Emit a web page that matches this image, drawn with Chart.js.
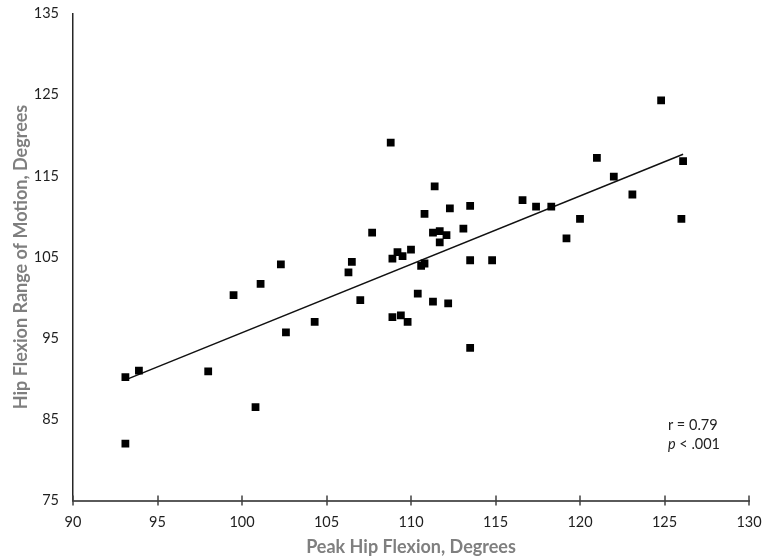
<!DOCTYPE html>
<html><head><meta charset="utf-8">
<script src="https://cdn.jsdelivr.net/npm/chart.js@4"></script>
<style>html,body{margin:0;padding:0;background:#fff}#wrap{width:763px;height:560px}</style>
</head><body><div id="wrap"><canvas id="c" width="763" height="560"></canvas></div>
<script>
const peakHipFlexion = [124.8,121.0,126.1,122.0,123.1,126.0,116.6,117.4,118.3,120.0,
  119.2,108.8,111.4,110.8,112.3,113.5,113.1,107.7,111.3,111.7,
  112.1,111.7,110.0,109.2,108.9,109.5,106.5,106.3,102.3,101.1,
  99.5,107.0,110.8,110.6,113.5,114.8,110.4,111.3,112.2,108.9,
  109.4,109.8,102.6,104.3,93.1,93.9,98.0,100.8,93.1,113.5];
const hipFlexionROM = [124.3,117.2,116.8,114.9,112.7,109.7,112.0,111.2,111.2,109.7,
  107.3,119.1,113.7,110.3,111.0,111.3,108.5,108.0,108.0,108.2,
  107.7,106.8,105.9,105.6,104.8,105.1,104.4,103.1,104.1,101.7,
  100.3,99.7,104.2,103.9,104.6,104.6,100.5,99.5,99.3,97.6,
  97.8,97.0,95.7,97.0,90.2,91.0,90.9,86.5,82.0,93.8];
const xTickValues = [90,95,100,105,110,115,120,125,130];
const yTickValues = [75,85,95,105,115,125,135];
const xTitle = 'Peak Hip Flexion, Degrees';
const yTitle = 'Hip Flexion Range of Motion, Degrees';
const statR = 'r = 0.79';
const statP = ['p', ' < .001'];

// least squares trend line from the data
const n = peakHipFlexion.length;
const mx = peakHipFlexion.reduce((a,b)=>a+b,0)/n;
const my = hipFlexionROM.reduce((a,b)=>a+b,0)/n;
let sxy=0, sxx=0;
for(let i=0;i<n;i++){ sxy+=(peakHipFlexion[i]-mx)*(hipFlexionROM[i]-my); sxx+=(peakHipFlexion[i]-mx)**2; }
const slope = sxy/sxx, intercept = my - slope*mx;
const xMin = Math.min(...peakHipFlexion), xMax = Math.max(...peakHipFlexion);
const trend = [{x:xMin,y:intercept+slope*xMin},{x:xMax,y:intercept+slope*xMax}];

const FONT = 'Lato';
const decor = {
  id:'decor',
  afterDraw(chart){
    const ctx = chart.ctx, xs = chart.scales.x, ys = chart.scales.y;
    ctx.save();
    ctx.strokeStyle = '#404040'; ctx.lineWidth = 1.5;
    const yb = ys.getPixelForValue(75);
    xTickValues.forEach(v=>{
      const px = Math.round(xs.getPixelForValue(v));
      ctx.beginPath(); ctx.moveTo(px, yb-5); ctx.lineTo(px, yb+5); ctx.stroke();
    });
    ctx.fillStyle = '#222'; ctx.textBaseline = 'middle'; ctx.textAlign = 'left';
    const ax = xs.getPixelForValue(125.2);
    ctx.font = '14.5px ' + FONT;
    ctx.fillText(statR, ax, ys.getPixelForValue(84.2));
    const py = ys.getPixelForValue(81.9);
    ctx.font = 'italic 14.5px ' + FONT;
    ctx.fillText(statP[0], ax, py);
    const w = ctx.measureText(statP[0]).width;
    ctx.font = '14.5px ' + FONT;
    ctx.fillText(statP[1], ax + w, py);
    ctx.restore();
  }
};

const HIDDEN = 'rgba(0,0,0,0)';
new Chart(document.getElementById('c'), {
  data: {
    datasets: [
      { type:'scatter', data: peakHipFlexion.map((x,i)=>({x, y:hipFlexionROM[i]})),
        pointStyle:'rect', pointRadius:5.5, pointHoverRadius:5.5, backgroundColor:'#000', borderWidth:0, order:1 },
      { type:'line', data: trend, borderColor:'#111', borderWidth:1.5, pointRadius:0, fill:false, order:2 }
    ]
  },
  options: {
    responsive:false, animation:false, devicePixelRatio:1,
    layout:{ padding:{ top:13.5, right:14, left:0, bottom:0 } },
    plugins:{ legend:{display:false}, tooltip:{enabled:false} },
    scales:{
      x:{ type:'linear', min:90, max:130,
        afterBuildTicks: s => { s.ticks = xTickValues.map(v=>({value:v})); },
        afterFit: s => { s.height = 59.5; },
        grid:{ display:true, drawOnChartArea:false, drawTicks:true, tickLength:13, tickColor:HIDDEN, color:HIDDEN },
        border:{ display:true, color:'#5a5a5a', width:2 },
        ticks:{ padding:0, color:'#1f1f1f', font:{ family:FONT, size:14.5 } },
        title:{ display:true, text:xTitle, color:'#7f7f7f', font:{ family:FONT, size:18, weight:'bold' }, padding:{ top:0, bottom:2 } }
      },
      y:{ type:'linear', min:75, max:135,
        afterBuildTicks: s => { s.ticks = yTickValues.map(v=>({value:v})); },
        afterFit: s => { s.width = 73; },
        grid:{ display:true, drawOnChartArea:false, drawTicks:true, tickLength:14, tickColor:HIDDEN, color:HIDDEN },
        border:{ display:true, color:'#262626', width:1.5 },
        ticks:{ padding:0, color:'#1f1f1f', font:{ family:FONT, size:14.5 } },
        title:{ display:true, text:yTitle, color:'#7f7f7f', font:{ family:FONT, size:18, weight:'bold' }, padding:{ top:10, bottom:0 } }
      }
    }
  },
  plugins:[decor]
});
</script></body></html>
